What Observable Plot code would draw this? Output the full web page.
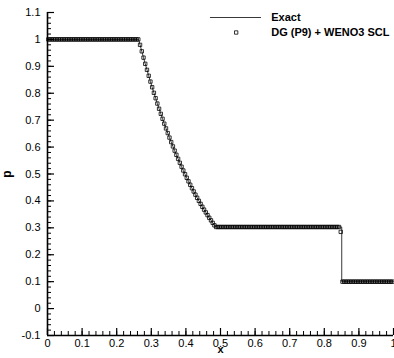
<!DOCTYPE html>
<html><head><meta charset="utf-8">
<script src="https://cdn.jsdelivr.net/npm/d3@7"></script>
<script src="https://cdn.jsdelivr.net/npm/@observablehq/plot@0.6"></script>
<style>
body{margin:0;background:#fff;}
#chart svg{font-family:"Liberation Sans",Arial,sans-serif;}
</style></head><body><div id="chart"></div>
<script>
// Numerical solution: DG (P9) + WENO3 SCL (cell positions and pressure)
const xNum = [
0.0025,0.0075,0.0125,0.0175,0.0225,0.0275,0.0325,0.0375,0.0425,0.0475,
0.0525,0.0575,0.0625,0.0675,0.0725,0.0775,0.0825,0.0875,0.0925,0.0975,
0.1025,0.1075,0.1125,0.1175,0.1225,0.1275,0.1325,0.1375,0.1425,0.1475,
0.1525,0.1575,0.1625,0.1675,0.1725,0.1775,0.1825,0.1875,0.1925,0.1975,
0.2025,0.2075,0.2125,0.2175,0.2225,0.2275,0.2325,0.2375,0.2425,0.2475,
0.2525,0.2575,0.2625,0.2675,0.2725,0.2775,0.2825,0.2875,0.2925,0.2975,
0.3025,0.3075,0.3125,0.3175,0.3225,0.3275,0.3325,0.3375,0.3425,0.3475,
0.3525,0.3575,0.3625,0.3675,0.3725,0.3775,0.3825,0.3875,0.3925,0.3975,
0.4025,0.4075,0.4125,0.4175,0.4225,0.4275,0.4325,0.4375,0.4425,0.4475,
0.4525,0.4575,0.4625,0.4675,0.4725,0.4775,0.4825,0.4875,0.4925,0.4975,
0.5025,0.5075,0.5125,0.5175,0.5225,0.5275,0.5325,0.5375,0.5425,0.5475,
0.5525,0.5575,0.5625,0.5675,0.5725,0.5775,0.5825,0.5875,0.5925,0.5975,
0.6025,0.6075,0.6125,0.6175,0.6225,0.6275,0.6325,0.6375,0.6425,0.6475,
0.6525,0.6575,0.6625,0.6675,0.6725,0.6775,0.6825,0.6875,0.6925,0.6975,
0.7025,0.7075,0.7125,0.7175,0.7225,0.7275,0.7325,0.7375,0.7425,0.7475,
0.7525,0.7575,0.7625,0.7675,0.7725,0.7775,0.7825,0.7875,0.7925,0.7975,
0.8025,0.8075,0.8125,0.8175,0.8225,0.8275,0.8325,0.8375,0.8425,0.8475,
0.8525,0.8575,0.8625,0.8675,0.8725,0.8775,0.8825,0.8875,0.8925,0.8975,
0.9025,0.9075,0.9125,0.9175,0.9225,0.9275,0.9325,0.9375,0.9425,0.9475,
0.9525,0.9575,0.9625,0.9675,0.9725,0.9775,0.9825,0.9875,0.9925,0.9975
];
const pNum = [
1,1,1,1,1,1,1,1,1,1,
1,1,1,1,1,1,1,1,1,1,
1,1,1,1,1,1,1,1,1,1,
1,1,1,1,1,1,1,1,1,1,
1,1,1,1,1,1,1,1,1,1,
1,1,1,0.9798,0.9558,0.9323,0.9094,0.8869,0.8649,0.8433,
0.8223,0.8016,0.7815,0.7617,0.7424,0.7235,0.7051,0.6870,0.6693,0.6520,
0.6352,0.6186,0.6025,0.5867,0.5713,0.5562,0.5415,0.5270,0.5130,0.4992,
0.4858,0.4727,0.4599,0.4473,0.4351,0.4232,0.4115,0.4001,0.3890,0.3782,
0.3676,0.3573,0.3472,0.3374,0.3278,0.3184,0.3093,0.3031,0.3031,0.3031,
0.3031,0.3031,0.3031,0.3031,0.3031,0.3031,0.3031,0.3031,0.3031,0.3031,
0.3031,0.3031,0.3031,0.3031,0.3031,0.3031,0.3031,0.3031,0.3031,0.3031,
0.3031,0.3031,0.3031,0.3031,0.3031,0.3031,0.3031,0.3031,0.3031,0.3031,
0.3031,0.3031,0.3031,0.3031,0.3031,0.3031,0.3031,0.3031,0.3031,0.3031,
0.3031,0.3031,0.3031,0.3031,0.3031,0.3031,0.3031,0.3031,0.3031,0.3031,
0.3031,0.3031,0.3031,0.3031,0.3031,0.3031,0.3031,0.3031,0.3031,0.3031,
0.3031,0.3031,0.3031,0.3031,0.3031,0.3031,0.3031,0.3031,0.3031,0.285,
0.1,0.1,0.1,0.1,0.1,0.1,0.1,0.1,0.1,0.1,
0.1,0.1,0.1,0.1,0.1,0.1,0.1,0.1,0.1,0.1,
0.1,0.1,0.1,0.1,0.1,0.1,0.1,0.1,0.1,0.1
];
// Exact solution
const xExact = [0,0.2634,
0.2675,0.2725,0.2775,0.2825,0.2875,0.2925,0.2975,0.3025,0.3075,0.3125,
0.3175,0.3225,0.3275,0.3325,0.3375,0.3425,0.3475,0.3525,0.3575,0.3625,
0.3675,0.3725,0.3775,0.3825,0.3875,0.3925,0.3975,0.4025,0.4075,0.4125,
0.4175,0.4225,0.4275,0.4325,0.4375,0.4425,0.4475,0.4525,0.4575,0.4625,
0.4675,0.4725,0.4775,0.4825,
0.4860,0.8504,0.8504,1];
const pExact = [1,1,
0.9798,0.9558,0.9323,0.9094,0.8869,0.8649,0.8433,0.8223,0.8016,0.7815,
0.7617,0.7424,0.7235,0.7051,0.6870,0.6693,0.6520,0.6352,0.6186,0.6025,
0.5867,0.5713,0.5562,0.5415,0.5270,0.5130,0.4992,0.4858,0.4727,0.4599,
0.4473,0.4351,0.4232,0.4115,0.4001,0.3890,0.3782,0.3676,0.3573,0.3472,
0.3374,0.3278,0.3184,0.3093,
0.3031,0.3031,0.1,0.1];

const xTicks = [0,0.1,0.2,0.3,0.4,0.5,0.6,0.7,0.8,0.9,1];
const xTickLabels = ["0","0.1","0.2","0.3","0.4","0.5","0.6","0.7","0.8","0.9","1"];
const yTicks = [-0.1,0,0.1,0.2,0.3,0.4,0.5,0.6,0.7,0.8,0.9,1,1.1];
const yTickLabels = ["-0.1","0","0.1","0.2","0.3","0.4","0.5","0.6","0.7","0.8","0.9","1","1.1"];
const seriesNames = ["Exact","DG (P9) + WENO3 SCL"];
const xTitle = "x", yTitle = "p";

const num = xNum.map((x,i)=>({x, p:pNum[i]}));
const exact = xExact.map((x,i)=>({x, p:pExact[i]}));
const xMinor = d3.range(0, 1.0001, 0.02);
const yMinor = d3.range(-0.1, 1.1001, 0.02);

const W = 394, H = 358, mL = 47, mR = 1, mT = 12, mB = 23;
const iw = W - mL - mR, ih = H - mT - mB;

const chart = Plot.plot({
  width: W, height: H,
  marginLeft: mL, marginRight: mR, marginTop: mT, marginBottom: mB,
  style: {fontSize: "11px", fontFamily: "Liberation Sans, Arial, sans-serif", background: "#fff", color: "#000", overflow: "visible"},
  x: {domain: [0, 1]},
  y: {domain: [-0.1, 1.1]},
  marks: [
    Plot.line(exact, {x: "x", y: "p", stroke: "#222", strokeWidth: 0.9}),
    Plot.dot(num, {x: "x", y: "p", symbol: "square", r: 1.9, stroke: "#000", fill: "none", strokeWidth: 0.8}),
    // axis lines
    Plot.ruleX([0], {stroke: "#000", strokeWidth: 1.6}),
    Plot.ruleY([-0.1], {stroke: "#000", strokeWidth: 1.6}),
    // inward ticks
    Plot.tickX(xTicks, {x: d => d, insetTop: ih - 7, stroke: "#000", strokeWidth: 1.2}),
    Plot.tickX(xMinor, {x: d => d, insetTop: ih - 4, stroke: "#000", strokeWidth: 1}),
    Plot.tickY(yTicks, {y: d => d, insetRight: iw - 7, stroke: "#000", strokeWidth: 1.2}),
    Plot.tickY(yMinor, {y: d => d, insetRight: iw - 4, stroke: "#000", strokeWidth: 1}),
    // tick labels
    Plot.axisX({ticks: xTicks, tickFormat: d => xTickLabels[xTicks.indexOf(d)], tickSize: 0, tickPadding: 4, label: null}),
    Plot.axisY({ticks: yTicks, tickFormat: d => yTickLabels[yTicks.indexOf(d)], tickSize: 0, tickPadding: 7, label: null}),
    // axis titles
    Plot.text([xTitle], {frameAnchor: "bottom", dy: 17.5, text: d => d, fontWeight: "bold", fontSize: 11}),
    Plot.text([yTitle], {frameAnchor: "left", dx: -40, rotate: -90, textAnchor: "middle", text: d => d, fontWeight: "bold", fontSize: 12}),
    // legend
    Plot.ruleY([1.0814], {x1: 0.471, x2: 0.6185, stroke: "#222", strokeWidth: 0.9}),
    Plot.dot([1.0257], {x: () => 0.5453, y: d => d, symbol: "square", r: 1.9, stroke: "#000", fill: "none", strokeWidth: 0.8}),
    Plot.text(seriesNames, {x: () => 0.6465, y: (d, i) => [1.0814, 1.0257][i], text: d => d, textAnchor: "start", fontWeight: "bold", fontSize: 11})
  ]
});
document.getElementById("chart").appendChild(chart);
</script></body></html>
